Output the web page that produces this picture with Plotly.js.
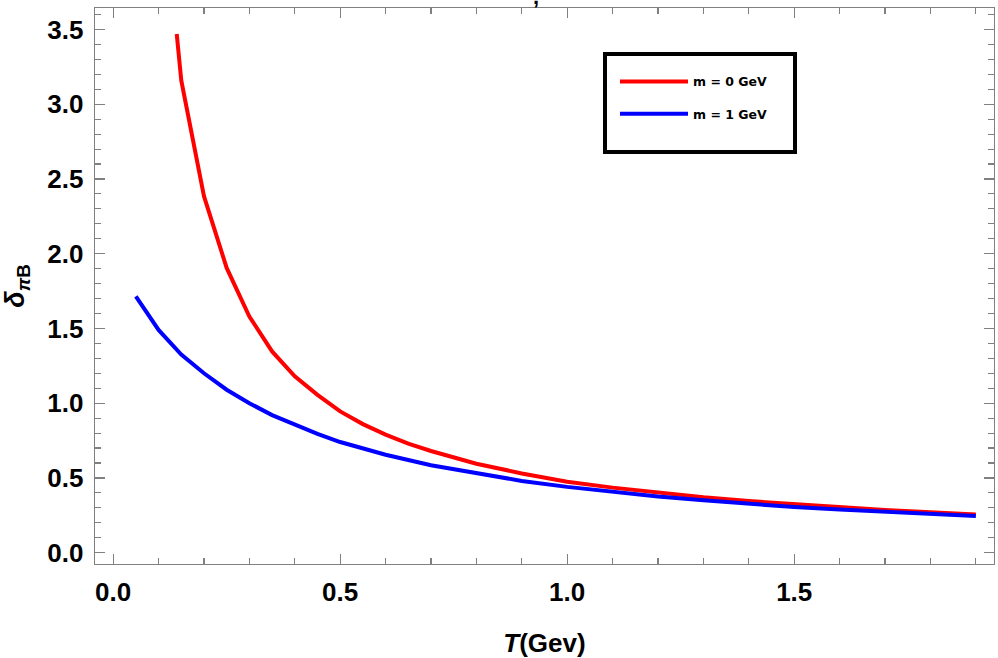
<!DOCTYPE html>
<html>
<head>
<meta charset="utf-8">
<script src="https://cdn.plot.ly/plotly-3.0.1.min.js"></script>
<style>html,body{margin:0;padding:0;background:#fff;}#chart{width:998px;height:658px;}</style>
</head>
<body>
<div id="chart"></div>
<script>
// Series
var T_m0 = [0.14, 0.15, 0.20, 0.25, 0.30, 0.35, 0.40, 0.45, 0.50, 0.55, 0.60, 0.65, 0.70, 0.75, 0.80, 0.90, 1.00, 1.10, 1.20, 1.30, 1.40, 1.50, 1.60, 1.70, 1.80, 1.90];
var d_m0 = [3.47, 3.16, 2.385, 1.905, 1.58, 1.346, 1.18, 1.056, 0.945, 0.86, 0.79, 0.73, 0.68, 0.635, 0.595, 0.53, 0.475, 0.435, 0.40, 0.37, 0.345, 0.323, 0.303, 0.285, 0.27, 0.256];
var T_m1 = [0.05, 0.10, 0.15, 0.20, 0.25, 0.30, 0.35, 0.40, 0.45, 0.50, 0.60, 0.70, 0.80, 0.90, 1.00, 1.10, 1.20, 1.30, 1.40, 1.50, 1.60, 1.70, 1.80, 1.90];
var d_m1 = [1.715, 1.49, 1.325, 1.20, 1.09, 1.00, 0.92, 0.855, 0.795, 0.74, 0.655, 0.585, 0.53, 0.48, 0.44, 0.405, 0.375, 0.35, 0.327, 0.305, 0.288, 0.273, 0.259, 0.245];
var seriesNames = ['m = 0 GeV', 'm = 1 GeV'];
var xTicks = [0.0, 0.5, 1.0, 1.5];
var xTickText = ['0.0', '0.5', '1.0', '1.5'];
var yTicks = [0.0, 0.5, 1.0, 1.5, 2.0, 2.5, 3.0, 3.5];
var yTickText = ['0.0', '0.5', '1.0', '1.5', '2.0', '2.5', '3.0', '3.5'];

var frame = '#808080';
var tickFont = {family: 'Liberation Sans, Arial, sans-serif', size: 26, color: '#000', weight: 'bold'};

var traces = [
  {x: T_m0, y: d_m0, mode: 'lines', name: seriesNames[0], legendgroup: 'a',
   line: {color: '#ff0000', width: 4}},
  {x: T_m1, y: d_m1, mode: 'lines', name: seriesNames[1], legendgroup: 'b',
   line: {color: '#0000ff', width: 4}}
];

var layout = {
  width: 998, height: 658,
  paper_bgcolor: '#fff', plot_bgcolor: '#fff',
  margin: {l: 95, r: 4, t: 8, b: 94},
  showlegend: true,
  legend: {x: (615 - 95) / 899, y: 0.894, xanchor: 'left', yanchor: 'top', itemwidth: 68,
           bgcolor: 'rgba(0,0,0,0)', borderwidth: 0, tracegroupgap: 13,
           font: {family: 'DejaVu Sans, sans-serif', size: 12.5, color: '#000', weight: 'bold'}},
  xaxis: {range: [-0.04, 1.94], showgrid: false, zeroline: false,
          showline: true, linecolor: frame, linewidth: 1.3, mirror: 'allticks',
          ticks: 'inside', ticklen: 10, tickwidth: 1.2, tickcolor: frame,
          tickvals: xTicks, ticktext: xTickText, tickfont: tickFont, ticklabelstandoff: 4,
          minor: {dtick: 0.1, tick0: 0, ticks: 'inside', ticklen: 6, tickwidth: 1.1, tickcolor: frame, showgrid: false},
          title: {text: '<i>T</i>(Gev)', standoff: 31,
                  font: {family: 'Liberation Sans, Arial, sans-serif', size: 26, color: '#000', weight: 'bold'}}},
  yaxis: {range: [-0.076, 3.644], showgrid: false, zeroline: false,
          showline: true, linecolor: frame, linewidth: 1.3, mirror: 'allticks',
          ticks: 'inside', ticklen: 10, tickwidth: 1.2, tickcolor: frame,
          tickvals: yTicks, ticktext: yTickText, tickfont: tickFont, ticklabelstandoff: 5,
          minor: {dtick: 0.1, tick0: 0, ticks: 'inside', ticklen: 6, tickwidth: 1.1, tickcolor: frame, showgrid: false},
          title: {text: '<i>δ</i><sub><i>π</i>B</sub>', standoff: 15,
                  font: {family: 'Liberation Sans, Arial, sans-serif', size: 27, color: '#000', weight: 'bold'}}},
  shapes: [
    {type: 'rect', xref: 'paper', yref: 'paper',
     x0: (605 - 95) / 899, x1: (795 - 95) / 899,
     y0: (564 - 152) / 556, y1: (564 - 54) / 556,
     line: {color: '#000', width: 4}, fillcolor: 'rgba(0,0,0,0)'}
  ],
  annotations: [
    {text: ',', xref: 'paper', yref: 'paper', x: (536 - 95) / 899, y: 1.0, yanchor: 'bottom', yshift: -3,
     showarrow: false, font: {family: 'Liberation Sans, Arial, sans-serif', size: 22, color: '#000', weight: 'bold'}}
  ]
};

Plotly.newPlot('chart', traces, layout, {displayModeBar: false, staticPlot: true});
</script>
</body>
</html>
